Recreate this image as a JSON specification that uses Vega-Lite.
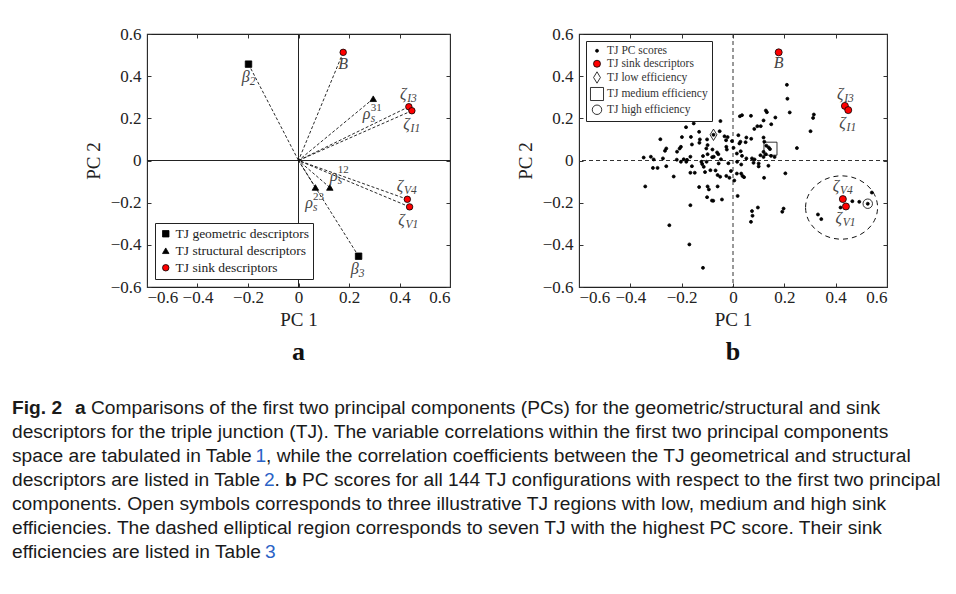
{
  "$schema": "https://vega.github.io/schema/vega-lite/v6.json",
  "padding": {"left": 12, "top": 24, "right": 0, "bottom": 0},
  "background": "white",
  "config": {
    "view": {"stroke": "#222", "strokeWidth": 1.1},
    "axis": {"labelFont": "Liberation Serif", "titleFont": "Liberation Serif", "labelFontSize": 17, "titleFontSize": 19, "titleFontWeight": "normal", "labelColor": "#222", "titleColor": "#222", "tickColor": "#333", "grid": false, "domain": false},
    "font": "Liberation Serif"
  },
  "datasets": {
    "vecA": [
      {"name": "β2", "type": "TJ geometric descriptors", "px": -0.198, "py": 0.457},
      {"name": "β3", "type": "TJ geometric descriptors", "px": 0.238, "py": -0.454},
      {"name": "ρ31", "type": "TJ structural descriptors", "px": 0.296, "py": 0.293},
      {"name": "ρ12", "type": "TJ structural descriptors", "px": 0.124, "py": -0.128},
      {"name": "ρ23", "type": "TJ structural descriptors", "px": 0.067, "py": -0.128},
      {"name": "B", "type": "TJ sink descriptors", "px": 0.177, "py": 0.513},
      {"name": "ζI3", "type": "TJ sink descriptors", "px": 0.437, "py": 0.255},
      {"name": "ζI1", "type": "TJ sink descriptors", "px": 0.449, "py": 0.236},
      {"name": "ζV4", "type": "TJ sink descriptors", "px": 0.431, "py": -0.184},
      {"name": "ζV1", "type": "TJ sink descriptors", "px": 0.440, "py": -0.220}
    ],
    "labA": [
      {"main": "β", "sub": "2", "sup": "", "lx": -0.209, "ly": 0.398},
      {"main": "β", "sub": "3", "sup": "", "lx": 0.223, "ly": -0.513},
      {"main": "ρ", "sub": "s", "sup": "31", "lx": 0.270, "ly": 0.219},
      {"main": "ρ", "sub": "s", "sup": "12", "lx": 0.140, "ly": -0.072},
      {"main": "ρ", "sub": "s", "sup": "23", "lx": 0.042, "ly": -0.203},
      {"main": "B", "sub": "", "sup": "", "lx": 0.177, "ly": 0.457},
      {"main": "ζ", "sub": "I3", "sup": "", "lx": 0.415, "ly": 0.314},
      {"main": "ζ", "sub": "I1", "sup": "", "lx": 0.428, "ly": 0.171},
      {"main": "ζ", "sub": "V4", "sup": "", "lx": 0.402, "ly": -0.120},
      {"main": "ζ", "sub": "V1", "sup": "", "lx": 0.408, "ly": -0.282}
    ],
    "labB": [
      {"main": "B", "sub": "", "lx": 0.178, "ly": 0.463},
      {"main": "ζ", "sub": "I3", "lx": 0.418, "ly": 0.317},
      {"main": "ζ", "sub": "I1", "lx": 0.427, "ly": 0.180},
      {"main": "ζ", "sub": "V4", "lx": 0.401, "ly": -0.123},
      {"main": "ζ", "sub": "V1", "lx": 0.412, "ly": -0.273}
    ],
    "ptsB": [
      {"cat": "TJ PC scores", "x": -0.049, "y": 0.187}, {"cat": "TJ PC scores", "x": -0.153, "y": 0.176}, {"cat": "TJ PC scores", "x": -0.183, "y": 0.158}, {"cat": "TJ PC scores", "x": -0.283, "y": 0.101}, {"cat": "TJ PC scores", "x": -0.199, "y": 0.111}, {"cat": "TJ PC scores", "x": -0.164, "y": 0.112}, {"cat": "TJ PC scores", "x": -0.129, "y": 0.100}, {"cat": "TJ PC scores", "x": -0.076, "y": 0.122}, {"cat": "TJ PC scores", "x": -0.052, "y": 0.139}, {"cat": "TJ PC scores", "x": -0.033, "y": 0.115}, {"cat": "TJ PC scores", "x": -0.021, "y": 0.111}, {"cat": "TJ PC scores", "x": -0.101, "y": 0.100}, {"cat": "TJ PC scores", "x": -0.131, "y": 0.084}, {"cat": "TJ PC scores", "x": -0.099, "y": 0.073}, {"cat": "TJ PC scores", "x": -0.104, "y": 0.057}, {"cat": "TJ PC scores", "x": -0.026, "y": 0.065}, {"cat": "TJ PC scores", "x": -0.024, "y": 0.052}, {"cat": "TJ PC scores", "x": -0.203, "y": 0.065}, {"cat": "TJ PC scores", "x": -0.208, "y": 0.057}, {"cat": "TJ PC scores", "x": -0.260, "y": 0.057}, {"cat": "TJ PC scores", "x": -0.265, "y": 0.046}, {"cat": "TJ PC scores", "x": -0.080, "y": 0.052}, {"cat": "TJ PC scores", "x": -0.099, "y": 0.030}, {"cat": "TJ PC scores", "x": -0.117, "y": 0.021}, {"cat": "TJ PC scores", "x": -0.166, "y": 0.018}, {"cat": "TJ PC scores", "x": -0.057, "y": 0.030}, {"cat": "TJ PC scores", "x": -0.075, "y": 0.018}, {"cat": "TJ PC scores", "x": -0.348, "y": 0.014}, {"cat": "TJ PC scores", "x": -0.320, "y": 0.018}, {"cat": "TJ PC scores", "x": -0.309, "y": 0.005}, {"cat": "TJ PC scores", "x": -0.192, "y": 0.006}, {"cat": "TJ PC scores", "x": -0.179, "y": 0.003}, {"cat": "TJ PC scores", "x": -0.273, "y": 0.010}, {"cat": "TJ PC scores", "x": -0.219, "y": 0.004}, {"cat": "TJ PC scores", "x": -0.062, "y": 0.038}, {"cat": "TJ PC scores", "x": -0.081, "y": 0.016}, {"cat": "TJ PC scores", "x": -0.047, "y": 0.006}, {"cat": "TJ PC scores", "x": -0.004, "y": 0.092}, {"cat": "TJ PC scores", "x": -0.027, "y": 0.096}, {"cat": "TJ PC scores", "x": -0.132, "y": 0.136}, {"cat": "TJ PC scores", "x": -0.218, "y": 0.042}, {"cat": "TJ PC scores", "x": -0.160, "y": 0.076},
      {"cat": "TJ PC scores", "x": 0.210, "y": 0.359}, {"cat": "TJ PC scores", "x": 0.212, "y": 0.293}, {"cat": "TJ PC scores", "x": 0.221, "y": 0.228}, {"cat": "TJ PC scores", "x": 0.315, "y": 0.218}, {"cat": "TJ PC scores", "x": 0.312, "y": 0.202}, {"cat": "TJ PC scores", "x": 0.302, "y": 0.139}, {"cat": "TJ PC scores", "x": 0.249, "y": 0.059}, {"cat": "TJ PC scores", "x": 0.128, "y": 0.237}, {"cat": "TJ PC scores", "x": 0.132, "y": 0.229}, {"cat": "TJ PC scores", "x": 0.165, "y": 0.204}, {"cat": "TJ PC scores", "x": 0.149, "y": 0.172}, {"cat": "TJ PC scores", "x": 0.119, "y": 0.190}, {"cat": "TJ PC scores", "x": 0.070, "y": 0.212}, {"cat": "TJ PC scores", "x": 0.035, "y": 0.215}, {"cat": "TJ PC scores", "x": 0.027, "y": 0.210}, {"cat": "TJ PC scores", "x": 0.095, "y": 0.163}, {"cat": "TJ PC scores", "x": 0.108, "y": 0.163}, {"cat": "TJ PC scores", "x": 0.083, "y": 0.150}, {"cat": "TJ PC scores", "x": 0.052, "y": 0.109}, {"cat": "TJ PC scores", "x": 0.071, "y": 0.103}, {"cat": "TJ PC scores", "x": 0.021, "y": 0.120}, {"cat": "TJ PC scores", "x": 0.025, "y": 0.081}, {"cat": "TJ PC scores", "x": 0.119, "y": 0.109}, {"cat": "TJ PC scores", "x": 0.122, "y": 0.089}, {"cat": "TJ PC scores", "x": 0.130, "y": 0.070}, {"cat": "TJ PC scores", "x": 0.139, "y": 0.062}, {"cat": "TJ PC scores", "x": 0.144, "y": 0.054}, {"cat": "TJ PC scores", "x": 0.119, "y": 0.041}, {"cat": "TJ PC scores", "x": 0.128, "y": 0.030}, {"cat": "TJ PC scores", "x": 0.148, "y": 0.022}, {"cat": "TJ PC scores", "x": 0.162, "y": 0.017}, {"cat": "TJ PC scores", "x": 0.119, "y": 0.017}, {"cat": "TJ PC scores", "x": 0.107, "y": 0.025}, {"cat": "TJ PC scores", "x": 0.074, "y": 0.010}, {"cat": "TJ PC scores", "x": 0.084, "y": 0.005}, {"cat": "TJ PC scores", "x": 0.052, "y": 0.010}, {"cat": "TJ PC scores", "x": 0.015, "y": 0.033}, {"cat": "TJ PC scores", "x": 0.029, "y": 0.089}, {"cat": "TJ PC scores", "x": 0.049, "y": 0.087}, {"cat": "TJ PC scores", "x": 0.030, "y": 0.044}, {"cat": "TJ PC scores", "x": 0.035, "y": 0.022}, {"cat": "TJ PC scores", "x": 0.002, "y": 0.060},
      {"cat": "TJ PC scores", "x": -0.312, "y": -0.035}, {"cat": "TJ PC scores", "x": -0.294, "y": -0.035}, {"cat": "TJ PC scores", "x": -0.260, "y": -0.027}, {"cat": "TJ PC scores", "x": -0.203, "y": -0.006}, {"cat": "TJ PC scores", "x": -0.182, "y": -0.006}, {"cat": "TJ PC scores", "x": -0.160, "y": -0.027}, {"cat": "TJ PC scores", "x": -0.120, "y": -0.017}, {"cat": "TJ PC scores", "x": -0.231, "y": -0.076}, {"cat": "TJ PC scores", "x": -0.342, "y": -0.123}, {"cat": "TJ PC scores", "x": -0.166, "y": -0.058}, {"cat": "TJ PC scores", "x": -0.149, "y": -0.058}, {"cat": "TJ PC scores", "x": -0.109, "y": -0.055}, {"cat": "TJ PC scores", "x": -0.088, "y": -0.046}, {"cat": "TJ PC scores", "x": -0.068, "y": -0.047}, {"cat": "TJ PC scores", "x": -0.056, "y": -0.014}, {"cat": "TJ PC scores", "x": -0.060, "y": -0.069}, {"cat": "TJ PC scores", "x": -0.050, "y": -0.077}, {"cat": "TJ PC scores", "x": -0.026, "y": -0.073}, {"cat": "TJ PC scores", "x": -0.014, "y": -0.082}, {"cat": "TJ PC scores", "x": -0.018, "y": -0.013}, {"cat": "TJ PC scores", "x": -0.008, "y": -0.050}, {"cat": "TJ PC scores", "x": -0.132, "y": -0.126}, {"cat": "TJ PC scores", "x": -0.099, "y": -0.123}, {"cat": "TJ PC scores", "x": -0.094, "y": -0.137}, {"cat": "TJ PC scores", "x": -0.060, "y": -0.123}, {"cat": "TJ PC scores", "x": -0.101, "y": -0.174}, {"cat": "TJ PC scores", "x": -0.082, "y": -0.190}, {"cat": "TJ PC scores", "x": -0.077, "y": -0.191}, {"cat": "TJ PC scores", "x": -0.043, "y": -0.185}, {"cat": "TJ PC scores", "x": -0.166, "y": -0.212}, {"cat": "TJ PC scores", "x": -0.248, "y": -0.307}, {"cat": "TJ PC scores", "x": -0.170, "y": -0.398}, {"cat": "TJ PC scores", "x": -0.117, "y": -0.509}, {"cat": "TJ PC scores", "x": -0.103, "y": -0.006}, {"cat": "TJ PC scores", "x": -0.123, "y": -0.006}, {"cat": "TJ PC scores", "x": -0.114, "y": -0.030},
      {"cat": "TJ PC scores", "x": 0.032, "y": -0.019}, {"cat": "TJ PC scores", "x": 0.080, "y": -0.011}, {"cat": "TJ PC scores", "x": 0.100, "y": -0.014}, {"cat": "TJ PC scores", "x": 0.100, "y": -0.028}, {"cat": "TJ PC scores", "x": 0.138, "y": -0.025}, {"cat": "TJ PC scores", "x": 0.015, "y": -0.062}, {"cat": "TJ PC scores", "x": 0.032, "y": -0.062}, {"cat": "TJ PC scores", "x": 0.037, "y": -0.073}, {"cat": "TJ PC scores", "x": 0.043, "y": -0.079}, {"cat": "TJ PC scores", "x": 0.121, "y": -0.082}, {"cat": "TJ PC scores", "x": 0.204, "y": -0.061}, {"cat": "TJ PC scores", "x": 0.018, "y": -0.168}, {"cat": "TJ PC scores", "x": 0.097, "y": -0.223}, {"cat": "TJ PC scores", "x": 0.074, "y": -0.240}, {"cat": "TJ PC scores", "x": 0.076, "y": -0.262}, {"cat": "TJ PC scores", "x": 0.070, "y": -0.291}, {"cat": "TJ PC scores", "x": 0.197, "y": -0.228}, {"cat": "TJ PC scores", "x": 0.192, "y": -0.243}, {"cat": "TJ PC scores", "x": 0.331, "y": -0.256}, {"cat": "TJ PC scores", "x": 0.344, "y": -0.278}, {"cat": "TJ PC scores", "x": 0.465, "y": -0.193}, {"cat": "TJ PC scores", "x": 0.492, "y": -0.196}, {"cat": "TJ PC scores", "x": 0.525, "y": -0.205}, {"cat": "TJ PC scores", "x": 0.541, "y": -0.152}, {"cat": "TJ PC scores", "x": 0.419, "y": -0.223}, {"cat": "TJ PC scores", "x": 0.016, "y": -0.006}, {"cat": "TJ PC scores", "x": 0.005, "y": -0.095},
      {"cat": "TJ sink descriptors", "x": 0.178, "y": 0.513}, {"cat": "TJ sink descriptors", "x": 0.436, "y": 0.259}, {"cat": "TJ sink descriptors", "x": 0.449, "y": 0.239}, {"cat": "TJ sink descriptors", "x": 0.428, "y": -0.183}, {"cat": "TJ sink descriptors", "x": 0.440, "y": -0.218},
      {"cat": "TJ low efficiency", "x": -0.076, "y": 0.122},
      {"cat": "TJ medium efficiency", "x": 0.146, "y": 0.056},
      {"cat": "TJ high efficiency", "x": 0.525, "y": -0.205}
    ],
    "caption": [
      {"line": 1, "seg": "fig", "text": "Fig. 2"},
      {"line": 1, "seg": "a", "text": "a"},
      {"line": 1, "seg": "r1", "text": "Comparisons of the first two principal components (PCs) for the geometric/structural and sink"},
      {"line": 2, "seg": "n", "text": "descriptors for the triple junction (TJ). The variable correlations within the first two principal components"},
      {"line": 3, "seg": "n", "text": "space are tabulated in Table"},
      {"line": 3, "seg": "d3", "text": "1"},
      {"line": 3, "seg": "r3", "text": ", while the correlation coefficients between the TJ geometrical and structural"},
      {"line": 4, "seg": "n", "text": "descriptors are listed in Table"},
      {"line": 4, "seg": "d4", "text": "2"},
      {"line": 4, "seg": "p4", "text": "."},
      {"line": 4, "seg": "b", "text": "b"},
      {"line": 4, "seg": "r4", "text": "PC scores for all 144 TJ configurations with respect to the first two principal"},
      {"line": 5, "seg": "n", "text": "components. Open symbols corresponds to three illustrative TJ regions with low, medium and high sink"},
      {"line": 6, "seg": "n", "text": "efficiencies. The dashed elliptical region corresponds to seven TJ with the highest PC score. Their sink"},
      {"line": 7, "seg": "n", "text": "efficiencies are listed in Table"},
      {"line": 7, "seg": "d7", "text": "3"}
    ]
  },
  "spacing": 33,
  "vconcat": [
    {
      "bounds": "flush",
      "spacing": 129,
      "resolve": {"scale": {"x": "independent", "y": "independent", "shape": "independent", "fill": "independent", "stroke": "independent", "size": "independent"}, "legend": {"shape": "independent", "fill": "independent", "stroke": "independent", "size": "independent"}},
      "hconcat": [
        {"width": 6, "height": 253, "view": {"stroke": null}, "data": {"values": [{"k": 1}]}, "mark": {"type": "point", "opacity": 0}},
        {
          "width": 303, "height": 253,
          "title": {"text": "a", "orient": "bottom", "font": "Liberation Serif", "fontSize": 26, "fontWeight": "bold", "color": "#111", "offset": 10},
          "resolve": {"axis": {"x": "independent", "y": "independent"}},
          "layer": [
            {"data": {"values": [{"v": 0}]}, "mark": {"type": "rule", "color": "#222", "strokeWidth": 1}, "encoding": {"x": {"field": "v", "type": "quantitative", "scale": {"domain": [-0.6, 0.6], "nice": false, "zero": false}, "axis": null}}},
            {"data": {"values": [{"v": 0}]}, "mark": {"type": "rule", "color": "#222", "strokeWidth": 1}, "encoding": {"y": {"field": "v", "type": "quantitative", "scale": {"domain": [-0.6, 0.6], "nice": false, "zero": false}, "axis": null}}},
            {"data": {"name": "vecA"}, "mark": {"type": "rule", "color": "#111", "strokeWidth": 0.9, "strokeDash": [3, 2]},
             "encoding": {"x": {"field": "px", "type": "quantitative", "scale": {"domain": [-0.6, 0.6], "nice": false, "zero": false}, "axis": null}, "y": {"field": "py", "type": "quantitative", "scale": {"domain": [-0.6, 0.6], "nice": false, "zero": false}, "axis": null}, "x2": {"datum": 0}, "y2": {"datum": 0}}},
            {"data": {"name": "vecA"}, "mark": {"type": "point", "filled": true, "strokeWidth": 0.8, "opacity": 1, "size": 42},
             "encoding": {
               "x": {"field": "px", "type": "quantitative", "scale": {"domain": [-0.6, 0.6], "nice": false, "zero": false}, "axis": {"orient": "bottom", "values": [-0.6, -0.4, -0.2, 0, 0.2, 0.4, 0.6], "format": ".1~f", "title": "PC 1", "tickSize": -4, "labelPadding": 6, "titlePadding": 5}},
               "y": {"field": "py", "type": "quantitative", "scale": {"domain": [-0.6, 0.6], "nice": false, "zero": false}, "axis": {"orient": "left", "values": [-0.6, -0.4, -0.2, 0, 0.2, 0.4, 0.6], "format": ".1~f", "title": "PC 2", "tickSize": -4, "labelPadding": 10, "titlePadding": 7}},
               "shape": {"field": "type", "type": "nominal", "scale": {"domain": ["TJ geometric descriptors", "TJ structural descriptors", "TJ sink descriptors"], "range": ["square", "triangle-up", "circle"]},
                 "legend": {"title": null, "orient": "bottom-left", "offset": 8, "padding": 4, "strokeColor": "#222", "fillColor": "white", "labelFont": "Liberation Serif", "labelFontSize": 13.5, "labelColor": "#222", "rowPadding": 2, "symbolStrokeWidth": 0.8, "symbolSize": 42, "labelOffset": 3}},
               "fill": {"field": "type", "type": "nominal", "scale": {"domain": ["TJ geometric descriptors", "TJ structural descriptors", "TJ sink descriptors"], "range": ["#000", "#000", "#ff0000"]},
                 "legend": {"title": null, "orient": "bottom-left", "offset": 8, "padding": 4, "strokeColor": "#222", "fillColor": "white", "labelFont": "Liberation Serif", "labelFontSize": 13.5, "labelColor": "#222", "rowPadding": 2, "symbolStrokeWidth": 0.8, "symbolSize": 42, "labelOffset": 3}},
               "stroke": {"field": "type", "type": "nominal", "scale": {"domain": ["TJ geometric descriptors", "TJ structural descriptors", "TJ sink descriptors"], "range": ["#000", "#000", "#000"]},
                 "legend": {"title": null, "orient": "bottom-left", "offset": 8, "padding": 4, "strokeColor": "#222", "fillColor": "white", "labelFont": "Liberation Serif", "labelFontSize": 13.5, "labelColor": "#222", "rowPadding": 2, "symbolStrokeWidth": 0.8, "symbolSize": 42, "labelOffset": 3}}
             }},
            {"data": {"name": "labA"}, "mark": {"type": "text", "font": "Liberation Serif", "fontStyle": "italic", "fontSize": 16, "color": "#444", "align": "center", "baseline": "middle"},
             "encoding": {
               "x": {"field": "lx", "type": "quantitative", "scale": {"domain": [-0.6, 0.6], "nice": false, "zero": false}, "axis": {"orient": "top", "values": [-0.6, -0.4, -0.2, 0, 0.2, 0.4, 0.6], "labels": false, "title": null, "tickSize": -4}},
               "y": {"field": "ly", "type": "quantitative", "scale": {"domain": [-0.6, 0.6], "nice": false, "zero": false}, "axis": {"orient": "right", "values": [-0.6, -0.4, -0.2, 0, 0.2, 0.4, 0.6], "labels": false, "title": null, "tickSize": -4}},
               "text": {"field": "main"}}},
            {"data": {"name": "labA"}, "transform": [{"filter": "datum.sub != ''"}], "mark": {"type": "text", "font": "Liberation Serif", "fontStyle": "italic", "fontSize": 11.5, "color": "#444", "align": "left", "baseline": "middle", "dx": 4, "dy": 5},
             "encoding": {"x": {"field": "lx", "type": "quantitative", "scale": {"domain": [-0.6, 0.6], "nice": false, "zero": false}, "axis": null}, "y": {"field": "ly", "type": "quantitative", "scale": {"domain": [-0.6, 0.6], "nice": false, "zero": false}, "axis": null}, "text": {"field": "sub"}}},
            {"data": {"name": "labA"}, "transform": [{"filter": "datum.sup != ''"}], "mark": {"type": "text", "font": "Liberation Serif", "fontSize": 11, "color": "#444", "align": "left", "baseline": "middle", "dx": 4, "dy": -6},
             "encoding": {"x": {"field": "lx", "type": "quantitative", "scale": {"domain": [-0.6, 0.6], "nice": false, "zero": false}, "axis": null}, "y": {"field": "ly", "type": "quantitative", "scale": {"domain": [-0.6, 0.6], "nice": false, "zero": false}, "axis": null}, "text": {"field": "sup"}}}
          ]
        },
        {
          "width": 308, "height": 253,
          "title": {"text": "b", "orient": "bottom", "font": "Liberation Serif", "fontSize": 26, "fontWeight": "bold", "color": "#111", "offset": 10},
          "resolve": {"axis": {"x": "independent", "y": "independent"}},
          "layer": [
            {"data": {"values": [{"v": 0}]}, "mark": {"type": "rule", "color": "#333", "strokeWidth": 1, "strokeDash": [4, 3]}, "encoding": {"x": {"field": "v", "type": "quantitative", "scale": {"domain": [-0.6, 0.6], "nice": false, "zero": false}, "axis": null}}},
            {"data": {"values": [{"v": 0}]}, "mark": {"type": "rule", "color": "#333", "strokeWidth": 1, "strokeDash": [4, 3]}, "encoding": {"y": {"field": "v", "type": "quantitative", "scale": {"domain": [-0.6, 0.6], "nice": false, "zero": false}, "axis": null}}},
            {"data": {"values": [{"ex": 0.423, "ey": -0.223}]}, "mark": {"type": "point", "shape": "M -1 0 A 1 0.88 0 1 1 1 0 A 1 0.88 0 1 1 -1 0 Z", "size": 5184, "filled": false, "stroke": "#111", "strokeWidth": 1, "strokeDash": [5, 4], "opacity": 1},
             "encoding": {"x": {"field": "ex", "type": "quantitative", "scale": {"domain": [-0.6, 0.6], "nice": false, "zero": false}, "axis": null}, "y": {"field": "ey", "type": "quantitative", "scale": {"domain": [-0.6, 0.6], "nice": false, "zero": false}, "axis": null}}},
            {"data": {"name": "ptsB"}, "mark": {"type": "point", "filled": true, "strokeWidth": 0.8, "opacity": 1},
             "encoding": {
               "x": {"field": "x", "type": "quantitative", "scale": {"domain": [-0.6, 0.6], "nice": false, "zero": false}, "axis": {"orient": "bottom", "values": [-0.6, -0.4, -0.2, 0, 0.2, 0.4, 0.6], "format": ".1~f", "title": "PC 1", "tickSize": -4, "labelPadding": 6, "titlePadding": 5}},
               "y": {"field": "y", "type": "quantitative", "scale": {"domain": [-0.6, 0.6], "nice": false, "zero": false}, "axis": {"orient": "left", "values": [-0.6, -0.4, -0.2, 0, 0.2, 0.4, 0.6], "format": ".1~f", "title": "PC 2", "tickSize": -4, "labelPadding": 10, "titlePadding": 7}},
               "shape": {"field": "cat", "type": "nominal", "scale": {"domain": ["TJ PC scores", "TJ sink descriptors", "TJ high efficiency", "TJ low efficiency", "TJ medium efficiency"], "range": ["circle", "circle", "circle", "M 0 -1 L 0.6 0 L 0 1 L -0.6 0 Z", "square"]},
                 "legend": {"title": null, "values": ["TJ PC scores", "TJ sink descriptors", "TJ low efficiency", "TJ medium efficiency", "TJ high efficiency"], "orient": "top-left", "offset": 7, "padding": 4, "strokeColor": "#222", "fillColor": "white", "labelFont": "Liberation Serif", "labelFontSize": 11.5, "labelColor": "#333", "rowPadding": 0, "symbolStrokeWidth": 0.8, "labelOffset": 3}},
               "fill": {"field": "cat", "type": "nominal", "scale": {"domain": ["TJ PC scores", "TJ sink descriptors", "TJ high efficiency", "TJ low efficiency", "TJ medium efficiency"], "range": ["#000", "#ff0000", "transparent", "transparent", "transparent"]},
                 "legend": {"title": null, "values": ["TJ PC scores", "TJ sink descriptors", "TJ low efficiency", "TJ medium efficiency", "TJ high efficiency"], "orient": "top-left", "offset": 7, "padding": 4, "strokeColor": "#222", "fillColor": "white", "labelFont": "Liberation Serif", "labelFontSize": 11.5, "labelColor": "#333", "rowPadding": 0, "symbolStrokeWidth": 0.8, "labelOffset": 3}},
               "stroke": {"field": "cat", "type": "nominal", "scale": {"domain": ["TJ PC scores", "TJ sink descriptors", "TJ high efficiency", "TJ low efficiency", "TJ medium efficiency"], "range": ["#000", "#000", "#000", "#000", "#000"]},
                 "legend": {"title": null, "values": ["TJ PC scores", "TJ sink descriptors", "TJ low efficiency", "TJ medium efficiency", "TJ high efficiency"], "orient": "top-left", "offset": 7, "padding": 4, "strokeColor": "#222", "fillColor": "white", "labelFont": "Liberation Serif", "labelFontSize": 11.5, "labelColor": "#333", "rowPadding": 0, "symbolStrokeWidth": 0.8, "labelOffset": 3}},
               "size": {"field": "cat", "type": "nominal", "scale": {"type": "point", "domain": ["TJ PC scores", "TJ sink descriptors", "TJ high efficiency", "TJ low efficiency", "TJ medium efficiency"], "range": [9, 170]},
                 "legend": {"title": null, "values": ["TJ PC scores", "TJ sink descriptors", "TJ low efficiency", "TJ medium efficiency", "TJ high efficiency"], "orient": "top-left", "offset": 7, "padding": 4, "strokeColor": "#222", "fillColor": "white", "labelFont": "Liberation Serif", "labelFontSize": 11.5, "labelColor": "#333", "rowPadding": 0, "symbolStrokeWidth": 0.8, "labelOffset": 3}}
             }},
            {"data": {"name": "labB"}, "mark": {"type": "text", "font": "Liberation Serif", "fontStyle": "italic", "fontSize": 16, "color": "#444", "align": "center", "baseline": "middle"},
             "encoding": {
               "x": {"field": "lx", "type": "quantitative", "scale": {"domain": [-0.6, 0.6], "nice": false, "zero": false}, "axis": {"orient": "top", "values": [-0.6, -0.4, -0.2, 0, 0.2, 0.4, 0.6], "labels": false, "title": null, "tickSize": -4}},
               "y": {"field": "ly", "type": "quantitative", "scale": {"domain": [-0.6, 0.6], "nice": false, "zero": false}, "axis": {"orient": "right", "values": [-0.6, -0.4, -0.2, 0, 0.2, 0.4, 0.6], "labels": false, "title": null, "tickSize": -4}},
               "text": {"field": "main"}}},
            {"data": {"name": "labB"}, "transform": [{"filter": "datum.sub != ''"}], "mark": {"type": "text", "font": "Liberation Serif", "fontStyle": "italic", "fontSize": 11.5, "color": "#444", "align": "left", "baseline": "middle", "dx": 4, "dy": 5},
             "encoding": {"x": {"field": "lx", "type": "quantitative", "scale": {"domain": [-0.6, 0.6], "nice": false, "zero": false}, "axis": null}, "y": {"field": "ly", "type": "quantitative", "scale": {"domain": [-0.6, 0.6], "nice": false, "zero": false}, "axis": null}, "text": {"field": "sub"}}}
          ]
        }
      ]
    },
    {
      "width": 930, "height": 144, "view": {"stroke": null},
      "data": {"name": "caption"},
      "layer": [
        {"transform": [{"filter": "datum.seg == 'n'"}], "mark": {"type": "text", "align": "left", "baseline": "middle", "font": "Liberation Sans", "fontSize": 19.2, "color": "#1a1a1a"},
         "encoding": {"y": {"field": "line", "type": "ordinal", "scale": {"type": "point", "padding": 0, "domain": [1, 2, 3, 4, 5, 6, 7]}, "axis": null}, "x": {"value": 0}, "text": {"field": "text"}}},
        {"transform": [{"filter": "datum.seg == 'fig'"}], "mark": {"type": "text", "align": "left", "baseline": "middle", "font": "Liberation Sans", "fontSize": 19.2, "fontWeight": "bold", "color": "#1a1a1a"},
         "encoding": {"y": {"field": "line", "type": "ordinal", "axis": null}, "x": {"value": 0}, "text": {"field": "text"}}},
        {"transform": [{"filter": "datum.seg == 'a'"}], "mark": {"type": "text", "align": "left", "baseline": "middle", "font": "Liberation Sans", "fontSize": 19.2, "fontWeight": "bold", "color": "#1a1a1a", "dx": 63},
         "encoding": {"y": {"field": "line", "type": "ordinal", "axis": null}, "x": {"value": 0}, "text": {"field": "text"}}},
        {"transform": [{"filter": "datum.seg == 'r1'"}], "mark": {"type": "text", "align": "left", "baseline": "middle", "font": "Liberation Sans", "fontSize": 19.2, "color": "#1a1a1a", "dx": 79},
         "encoding": {"y": {"field": "line", "type": "ordinal", "axis": null}, "x": {"value": 0}, "text": {"field": "text"}}},
        {"transform": [{"filter": "datum.seg == 'd3'"}], "mark": {"type": "text", "align": "left", "baseline": "middle", "font": "Liberation Sans", "fontSize": 19.2, "color": "#2b63c6", "dx": 243.6},
         "encoding": {"y": {"field": "line", "type": "ordinal", "axis": null}, "x": {"value": 0}, "text": {"field": "text"}}},
        {"transform": [{"filter": "datum.seg == 'r3'"}], "mark": {"type": "text", "align": "left", "baseline": "middle", "font": "Liberation Sans", "fontSize": 19.2, "color": "#1a1a1a", "dx": 254.1},
         "encoding": {"y": {"field": "line", "type": "ordinal", "axis": null}, "x": {"value": 0}, "text": {"field": "text"}}},
        {"transform": [{"filter": "datum.seg == 'd4'"}], "mark": {"type": "text", "align": "left", "baseline": "middle", "font": "Liberation Sans", "fontSize": 19.2, "color": "#2b63c6", "dx": 252},
         "encoding": {"y": {"field": "line", "type": "ordinal", "axis": null}, "x": {"value": 0}, "text": {"field": "text"}}},
        {"transform": [{"filter": "datum.seg == 'p4'"}], "mark": {"type": "text", "align": "left", "baseline": "middle", "font": "Liberation Sans", "fontSize": 19.2, "color": "#1a1a1a", "dx": 262.5},
         "encoding": {"y": {"field": "line", "type": "ordinal", "axis": null}, "x": {"value": 0}, "text": {"field": "text"}}},
        {"transform": [{"filter": "datum.seg == 'b'"}], "mark": {"type": "text", "align": "left", "baseline": "middle", "font": "Liberation Sans", "fontSize": 19.2, "fontWeight": "bold", "color": "#1a1a1a", "dx": 273},
         "encoding": {"y": {"field": "line", "type": "ordinal", "axis": null}, "x": {"value": 0}, "text": {"field": "text"}}},
        {"transform": [{"filter": "datum.seg == 'r4'"}], "mark": {"type": "text", "align": "left", "baseline": "middle", "font": "Liberation Sans", "fontSize": 19.2, "color": "#1a1a1a", "dx": 290},
         "encoding": {"y": {"field": "line", "type": "ordinal", "axis": null}, "x": {"value": 0}, "text": {"field": "text"}}},
        {"transform": [{"filter": "datum.seg == 'd7'"}], "mark": {"type": "text", "align": "left", "baseline": "middle", "font": "Liberation Sans", "fontSize": 19.2, "color": "#2b63c6", "dx": 253.1},
         "encoding": {"y": {"field": "line", "type": "ordinal", "axis": null}, "x": {"value": 0}, "text": {"field": "text"}}}
      ]
    }
  ]
}
